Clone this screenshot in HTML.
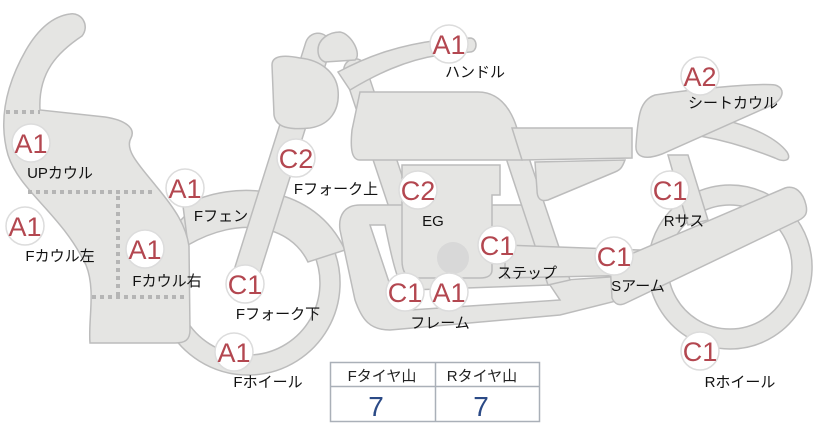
<!DOCTYPE html>
<html><head><meta charset="utf-8"><style>
html,body{margin:0;padding:0;background:#fff;width:822px;height:425px;overflow:hidden}
svg{display:block}
text{font-family:"Liberation Sans","Noto Sans CJK JP",sans-serif}
.p{fill:#e5e5e3;stroke:#bcbcbc;stroke-width:1.5}
.b circle{fill:#fff;stroke:#dcdcdc;stroke-width:1.5}
.b text{fill:#b34750;font-size:27px;text-anchor:middle}
.l{font-size:15px;fill:#111;text-anchor:middle}
</style></head><body>
<svg width="822" height="425" viewBox="0 0 822 425">
<path class="p" fill-rule="evenodd" d="M248,191a92,92 0 1,0 0.1,0Z M248,211a72,72 0 1,1 -0.1,0Z"/>
<path class="p" fill-rule="evenodd" d="M730,185a82,82 0 1,0 0.1,0Z M730,205a62,62 0 1,1 -0.1,0Z"/>
<path class="p" d="M183,206 C235,178 315,185 345,250 L308,262 C290,225 240,215 188,245 Z"/>
<path class="p" d="M70,14 C82,12 90,26 82,36 C58,52 38,72 40,110 L105,117 C125,120 136,128 131,138 C124,150 140,166 156,186 C176,210 186,226 189,246 L190,330 C190,340 185,343 175,343 L90,343 C88,320 96,290 86,265 C60,212 20,192 8,155 C-2,120 6,85 26,50 C40,26 55,16 70,14Z"/>
<g stroke="#b5b5b5" stroke-width="4" stroke-dasharray="4,4" fill="none">
<line x1="6" y1="112" x2="40" y2="112"/><line x1="28" y1="192" x2="155" y2="192"/>
<line x1="118" y1="196" x2="118" y2="295"/><line x1="92" y1="297" x2="188" y2="297"/>
</g>
<line x1="355" y1="70" x2="410" y2="235" stroke="#bcbcbc" stroke-width="24" stroke-linecap="round"/>
<line x1="355" y1="70" x2="410" y2="235" stroke="#e5e5e3" stroke-width="21" stroke-linecap="round"/>
<path class="p" fill-rule="evenodd" d="M360,205 L520,205 C535,205 560,250 565,280 L640,275 L620,300 L560,315 L390,330 C370,330 362,320 355,300 L340,230 C338,215 345,205 360,205Z M370,225 L395,300 C398,308 402,310 410,310 L560,300 L550,285 L410,290 C400,290 395,275 385,225Z"/>
<path class="p" d="M505,155 L528,155 L570,280 L548,285Z"/>
<path class="p" d="M402,165 L500,165 L500,195 L492,195 L492,270 C492,275 488,278 480,278 L415,278 C405,278 402,270 402,260Z"/>
<circle cx="453" cy="258" r="16" fill="#d8d8d8"/>
<circle cx="518" cy="265" r="10" fill="#c8c8c8"/><circle cx="555" cy="265" r="10" fill="#c8c8c8"/>
<path class="p" d="M505,245 L640,250 L645,275 L505,278Z"/>
<path class="p" d="M360,92 L478,92 C505,92 520,120 522,160 L360,160 C352,160 350,150 352,130Z"/>
<path class="p" d="M512,128 L632,128 L632,158 L522,160Z"/>
<path class="p" d="M535,162 L625,160 C622,168 620,170 615,172 L548,200 C540,202 537,198 537,190Z"/>
<path class="p" d="M668,155 L688,155 L708,220 L688,225Z"/>
<path class="p" d="M715,118 C755,126 778,140 787,152 C792,160 785,163 775,158 C750,148 722,140 700,136Z"/>
<path class="p" d="M655,95 C700,88 760,83 775,85 C786,88 784,100 770,106 L662,154 C646,160 635,158 636,145 C638,115 640,100 655,95Z"/>
<path class="p" d="M610,263 L785,188 C795,185 803,192 806,205 C808,214 805,218 795,222 L626,303 C620,306 615,305 612,298 Z"/>
<line x1="318" y1="46" x2="243" y2="284" stroke="#bcbcbc" stroke-width="27" stroke-linecap="round"/>
<line x1="318" y1="46" x2="243" y2="284" stroke="#e5e5e3" stroke-width="24" stroke-linecap="round"/>
<path class="p" d="M272,65 C272,55 285,55 300,58 C320,60 336,72 338,90 C340,110 330,125 310,128 C290,130 276,128 274,115Z"/>
<path class="p" d="M318,50 C318,40 328,32 340,32 C352,34 362,55 355,60 L325,62 C320,60 318,56 318,50Z"/>
<path class="p" d="M338,72 C370,55 400,45 440,40 L470,38 C478,38 478,52 470,52 L440,55 C405,60 375,75 350,90Z"/>
<g class="b">
<g transform="translate(449,44)"><circle r="19"/><text y="10">A1</text></g>
<g transform="translate(700,76)"><circle r="19"/><text y="10">A2</text></g>
<g transform="translate(31,143)"><circle r="19"/><text y="10">A1</text></g>
<g transform="translate(296,158)"><circle r="19"/><text y="10">C2</text></g>
<g transform="translate(185,188)"><circle r="19"/><text y="10">A1</text></g>
<g transform="translate(418,190)"><circle r="19"/><text y="10">C2</text></g>
<g transform="translate(670,190)"><circle r="19"/><text y="10">C1</text></g>
<g transform="translate(25,226)"><circle r="19"/><text y="10">A1</text></g>
<g transform="translate(145,249)"><circle r="19"/><text y="10">A1</text></g>
<g transform="translate(497,245)"><circle r="19"/><text y="10">C1</text></g>
<g transform="translate(614,256)"><circle r="19"/><text y="10">C1</text></g>
<g transform="translate(245,284)"><circle r="19"/><text y="10">C1</text></g>
<g transform="translate(405,292)"><circle r="19"/><text y="10">C1</text></g>
<g transform="translate(449,292)"><circle r="19"/><text y="10">A1</text></g>
<g transform="translate(234,352)"><circle r="19"/><text y="10">A1</text></g>
<g transform="translate(700,351)"><circle r="19"/><text y="10">C1</text></g>
</g>
<g class="l">
<text x="475" y="77">ハンドル</text>
<text x="733" y="108">シートカウル</text>
<text x="60" y="178">UPカウル</text>
<text x="336" y="194">Fフォーク上</text>
<text x="221" y="221">Fフェン</text>
<text x="433" y="226">EG</text>
<text x="684" y="226">Rサス</text>
<text x="60" y="261">Fカウル左</text>
<text x="167" y="286">Fカウル右</text>
<text x="527" y="278">ステップ</text>
<text x="638" y="291">Sアーム</text>
<text x="278" y="319">Fフォーク下</text>
<text x="440" y="328">フレーム</text>
<text x="268" y="387">Fホイール</text>
<text x="740" y="387">Rホイール</text>
</g>
<rect x="330.5" y="362.5" width="209" height="59" fill="#fff" stroke="#aab0b8" stroke-width="1.5"/>
<line x1="330" y1="386.5" x2="540" y2="386.5" stroke="#aab0b8" stroke-width="1.5"/>
<line x1="435.5" y1="362" x2="435.5" y2="422" stroke="#aab0b8" stroke-width="1.5"/>
<text x="382" y="381" font-size="15" text-anchor="middle" fill="#222">Fタイヤ山</text>
<text x="482" y="381" font-size="15" text-anchor="middle" fill="#222">Rタイヤ山</text>
<text x="376" y="416" font-size="28" text-anchor="middle" fill="#2b4a86">7</text>
<text x="481" y="416" font-size="28" text-anchor="middle" fill="#2b4a86">7</text>
</svg>
</body></html>
